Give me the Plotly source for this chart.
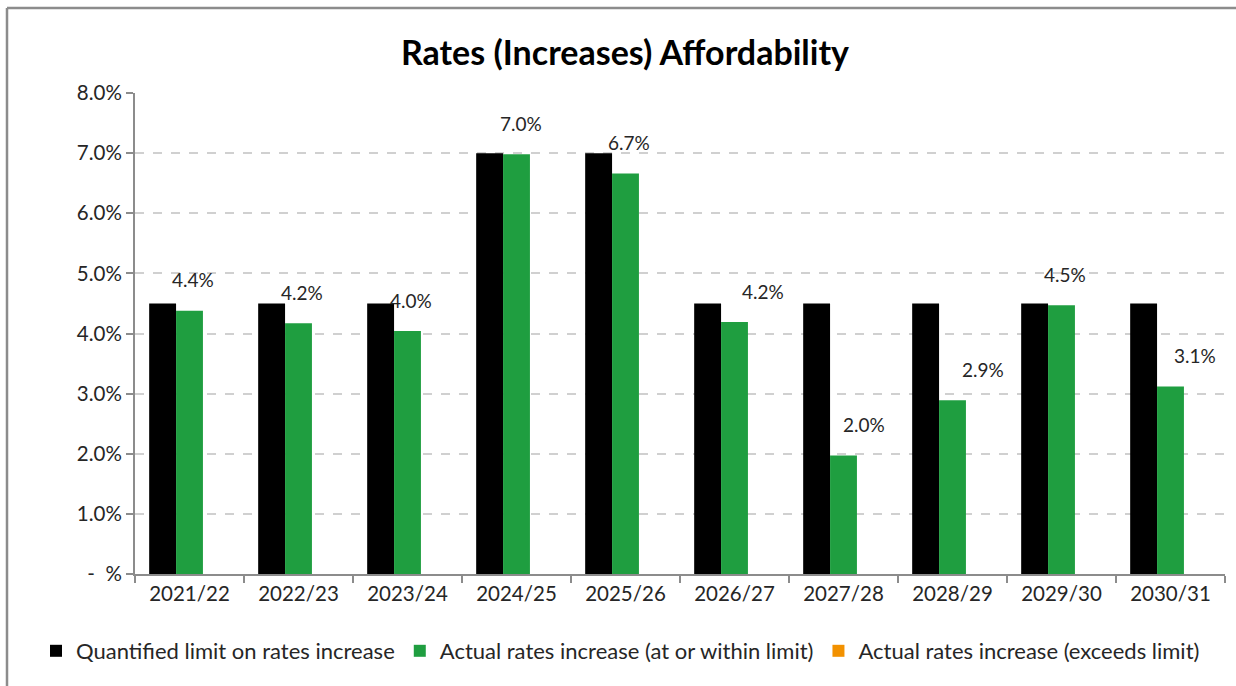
import plotly.graph_objects as go

categories = ["2021/22", "2022/23", "2023/24", "2024/25", "2025/26",
              "2026/27", "2027/28", "2028/29", "2029/30", "2030/31"]
limit = [4.5, 4.5, 4.5, 7.0, 7.0, 4.5, 4.5, 4.5, 4.5, 4.5]
actual = [4.38, 4.17, 4.04, 6.98, 6.66, 4.19, 1.97, 2.89, 4.47, 3.12]
exceeds = [0, 0, 0, 0, 0, 0, 0, 0, 0, 0]
y_ticks = [0, 1, 2, 3, 4, 5, 6, 7, 8]
y_tick_text = ["-  %", "1.0%", "2.0%", "3.0%", "4.0%", "5.0%", "6.0%", "7.0%", "8.0%"]

# label placement (pixel shifts, styling only)
label_dx = [3, 3, 3, 4, 3, 28, 20, 30, 3, 24]
label_dy = 31

FONT = "Lato"
BLACK = "#000000"
GREEN = "#1f9e40"
ORANGE = "#f29100"
AXIS = "#8c8c8c"
TXT = "#262626"

fig = go.Figure()
fig.add_trace(go.Bar(x=categories, y=limit, name="Quantified limit on rates increase",
                     marker=dict(color=BLACK, line=dict(width=0))))
fig.add_trace(go.Bar(x=categories, y=actual, name="Actual rates increase (at or within limit)",
                     marker=dict(color=GREEN, line=dict(width=0))))
fig.add_trace(go.Bar(x=categories, y=exceeds, name="Actual rates increase (exceeds limit)",
                     marker=dict(color=ORANGE, line=dict(width=0))))

annotations = []
for c, v, dx in zip(categories, actual, label_dx):
    annotations.append(dict(x=c, y=v, xref="x", yref="y", text=f"{v:.1f}%",
                            showarrow=False, xshift=dx, yshift=label_dy,
                            font=dict(family=FONT, size=19, color=TXT)))

L, R, T, B = 135, 1225, 93, 574
def px(x):
    return (x - L) / (R - L)
def py(y):
    return (B - y) / (B - T)

shapes = [
    dict(type="line", xref="paper", yref="paper", x0=px(7), x1=px(7), y0=py(686), y1=py(8),
         line=dict(color=AXIS, width=2.5)),
    dict(type="line", xref="paper", yref="paper", x0=px(7), x1=px(1236), y0=py(8), y1=py(8),
         line=dict(color=AXIS, width=2.5)),
]

fig.update_layout(
    width=1236, height=686,
    margin=dict(l=L, r=1236 - R, t=T, b=686 - B, autoexpand=False),
    paper_bgcolor="white", plot_bgcolor="white",
    barmode="group", bargap=0.26, bargroupgap=0,
    title=dict(text="<b>Rates (Increases) Affordability</b>", x=625 / 1236, xanchor="center",
               y=1 - 53 / 686, yanchor="middle",
               font=dict(family=FONT, size=34, color="#000000")),
    font=dict(family=FONT, size=18, color=TXT),
    legend=dict(orientation="h", x=px(36), xanchor="left",
                y=py(651), yanchor="middle",
                font=dict(family=FONT, size=22, color=TXT),
                itemwidth=30, traceorder="normal"),
    annotations=annotations,
    shapes=shapes,
    showlegend=True,
)
fig.update_xaxes(showline=True, linecolor=AXIS, linewidth=2, ticks="outside",
                 tickson="boundaries", ticklen=7, tickcolor=AXIS, tickwidth=2,
                 tickangle=0,
                 tickfont=dict(family=FONT, size=20.5, color=TXT), showgrid=False)
fig.update_yaxes(range=[0, 8], tickvals=y_ticks, ticktext=y_tick_text,
                 showline=True, linecolor=AXIS, linewidth=2, ticks="outside",
                 ticklen=7, tickcolor=AXIS, tickwidth=2,
                 showgrid=True, gridcolor="#d0d0d0", gridwidth=2, griddash="dash",
                 zeroline=False,
                 tickfont=dict(family=FONT, size=20.5, color=TXT))

fig.write_html("out.html")
